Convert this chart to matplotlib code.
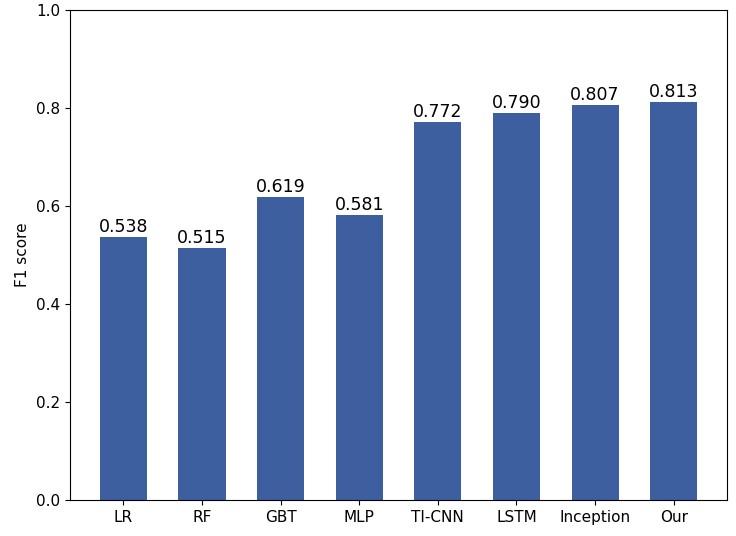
import matplotlib
matplotlib.use('Agg')
import matplotlib.pyplot as plt

models = ['LR', 'RF', 'GBT', 'MLP', 'TI-CNN', 'LSTM', 'Inception', 'Our']
f1_scores = [0.538, 0.515, 0.619, 0.581, 0.772, 0.790, 0.807, 0.813]

fig = plt.figure(figsize=(7.36, 5.36), dpi=100)
ax = fig.add_axes([0.095, 0.067, 0.893, 0.914])

bars = ax.bar(range(len(models)), f1_scores, width=0.6, color='#3d5f9f')
for b, v in zip(bars, f1_scores):
    ax.text(b.get_x() + b.get_width() / 2, v + 0.002, f'{v:.3f}',
            ha='center', va='bottom', fontsize=12.5)

ax.set_xticks(range(len(models)))
ax.set_xticklabels(models, fontsize=11)
ax.set_ylim(0, 1.0)
ax.tick_params(axis='y', labelsize=11)
ax.set_ylabel('F1 score', fontsize=11)

fig.savefig('out.png', dpi=100)
